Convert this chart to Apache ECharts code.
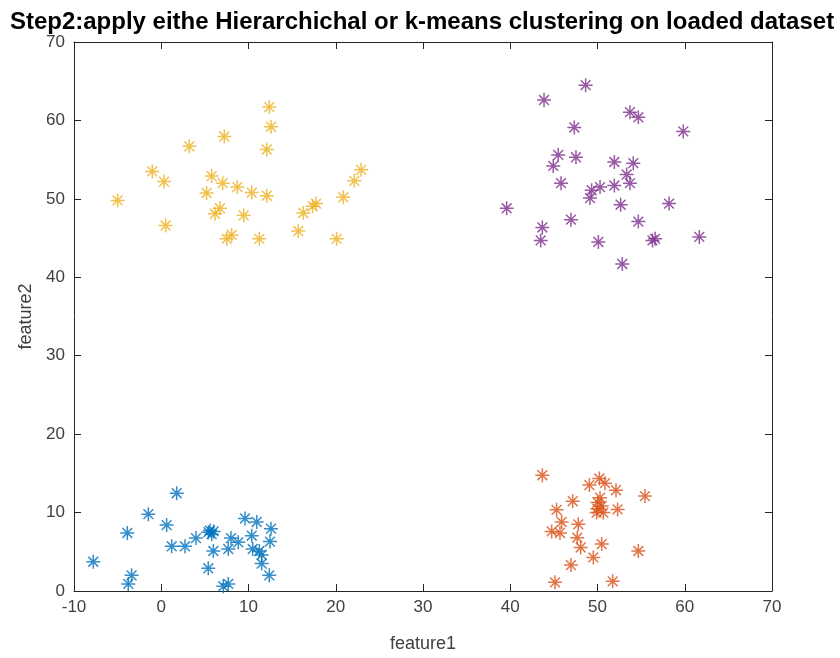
<!DOCTYPE html>
<html>
<head>
<meta charset="utf-8">
<script src="https://cdn.jsdelivr.net/npm/echarts@6/dist/echarts.min.js"></script>
<style>
  html, body { margin: 0; padding: 0; background: #fff; }
  #chart { width: 840px; height: 658px; }
</style>
</head>
<body>
<div id="chart"></div>
<script>
// Cluster 1 (blue)
const cluster1 = [
  [1.77, 12.47], [-1.48, 9.8], [-3.89, 7.4], [-7.79, 3.73], [0.62, 8.4],
  [1.2, 5.7], [2.72, 5.7], [3.98, 6.75], [5.59, 7.7], [5.78, 7.25],
  [5.4, 7.5], [6.0, 7.6], [5.97, 5.1], [5.39, 2.9], [7.99, 6.75],
  [7.68, 5.35], [8.83, 6.2], [9.6, 9.25], [10.94, 8.8], [12.58, 7.95],
  [10.37, 7.05], [10.48, 5.35], [11.24, 5.1], [12.46, 6.3], [11.51, 3.5],
  [12.38, 2.0], [-3.4, 2.0], [-3.78, 0.9], [7.11, 0.6], [7.68, 0.9],
  [11.51, 4.6]
];
// Cluster 2 (orange)
const cluster2 = [
  [43.68, 14.76], [50.21, 14.34], [49.07, 13.5], [50.86, 13.75], [52.12, 12.85],
  [55.44, 12.1], [47.16, 11.45], [50.29, 11.9], [50.48, 10.85], [52.3, 10.4],
  [45.31, 10.35], [49.9, 10.0], [45.89, 8.8], [47.8, 8.5], [50.67, 10.0],
  [44.75, 7.6], [45.7, 7.4], [47.68, 6.8], [50.48, 5.98], [48.07, 5.55],
  [54.68, 5.1], [49.52, 4.28], [46.96, 3.3], [45.13, 1.1], [51.74, 1.23],
  [50.0, 11.3], [49.98, 10.5]
];
// Cluster 3 (yellow)
const cluster3 = [
  [-5.0, 49.8], [-1.03, 53.5], [0.32, 52.2], [0.5, 46.6], [3.22, 56.7],
  [7.23, 57.95], [12.39, 61.7], [12.58, 59.2], [12.09, 56.3], [5.78, 52.9],
  [7.04, 52.0], [5.2, 50.75], [8.72, 51.5], [10.37, 50.8], [12.09, 50.4],
  [6.73, 48.8], [6.16, 48.1], [9.45, 47.9], [7.5, 44.9], [8.07, 45.4],
  [11.24, 44.9], [15.7, 45.9], [16.28, 48.2], [17.35, 49.05], [17.74, 49.4],
  [20.1, 44.9], [20.87, 50.2], [22.13, 52.3], [22.9, 53.7]
];
// Cluster 4 (purple)
const cluster4 = [
  [48.64, 64.5], [43.87, 62.6], [53.72, 61.05], [54.68, 60.4], [59.83, 58.6],
  [47.34, 59.1], [45.5, 55.6], [44.93, 54.2], [47.53, 55.3], [51.93, 54.7],
  [54.1, 54.55], [53.34, 53.1], [53.72, 52.0], [45.82, 52.0], [51.93, 51.7],
  [50.29, 51.5], [49.33, 51.1], [49.14, 50.1], [39.59, 48.8], [52.65, 49.25],
  [58.2, 49.4], [46.96, 47.35], [54.68, 47.1], [43.68, 46.35], [43.49, 44.7],
  [50.1, 44.5], [56.3, 44.7], [56.6, 44.9], [61.67, 45.15], [52.84, 41.7]
];

const titleText = 'Step2:apply eithe Hierarchichal or k-means clustering on loaded dataset';
const xName = 'feature1';
const yName = 'feature2';
const colors = ['#0072BD', '#D95319', '#EDB120', '#7E2F8E'];

// eight-armed asterisk marker
const star = 'path://M10 0L10 20M0 10L20 10M3 3L17 17M3 17L17 3';

const labelColor = '#404040';
const lineColor = '#262626';

function scatter(data, color) {
  return {
    type: 'scatter',
    data: data,
    symbol: star,
    symbolSize: 14,
    symbolKeepAspect: true,
    itemStyle: { color: color, borderColor: color, borderWidth: 1.5 },
    silent: true,
    z: 3
  };
}

const chart = echarts.init(document.getElementById('chart'), null, { renderer: 'canvas' });

const tickStyle = { show: true, inside: true, length: 7, lineStyle: { color: lineColor, width: 1 } };
const lineStyleAx = { show: true, onZero: false, lineStyle: { color: lineColor, width: 1 } };

chart.setOption({
  animation: false,
  backgroundColor: '#fff',
  title: {
    text: titleText,
    left: 417, top: 5, textAlign: 'center',
    textStyle: { fontFamily: 'Liberation Sans', fontWeight: 'bold', fontSize: 24, color: '#000' }
  },
  grid: { left: 74, top: 42, width: 698, height: 550 },
  xAxis: [
    {
      type: 'value', min: -10, max: 70, interval: 10, position: 'bottom',
      axisLine: lineStyleAx, axisTick: tickStyle, splitLine: { show: false },
      axisLabel: { color: labelColor, fontFamily: 'Liberation Sans', fontSize: 17, margin: 8 },
      name: xName, nameLocation: 'middle', nameGap: 44,
      nameTextStyle: { color: labelColor, fontFamily: 'Liberation Sans', fontSize: 18 }
    },
    {
      type: 'value', min: -10, max: 70, interval: 10, position: 'top',
      axisLine: lineStyleAx, axisTick: tickStyle, splitLine: { show: false },
      axisLabel: { show: false }
    }
  ],
  yAxis: [
    {
      type: 'value', min: 0, max: 70, interval: 10, position: 'left',
      axisLine: lineStyleAx, axisTick: tickStyle, splitLine: { show: false },
      axisLabel: { color: labelColor, fontFamily: 'Liberation Sans', fontSize: 17, margin: 9 },
      name: yName, nameLocation: 'middle', nameGap: 36, nameRotate: 90,
      nameTextStyle: { color: labelColor, fontFamily: 'Liberation Sans', fontSize: 18 }
    },
    {
      type: 'value', min: 0, max: 70, interval: 10, position: 'right',
      axisLine: lineStyleAx, axisTick: tickStyle, splitLine: { show: false },
      axisLabel: { show: false }
    }
  ],
  series: [
    scatter(cluster1, colors[0]),
    scatter(cluster2, colors[1]),
    scatter(cluster3, colors[2]),
    scatter(cluster4, colors[3])
  ]
});
</script>
</body>
</html>
